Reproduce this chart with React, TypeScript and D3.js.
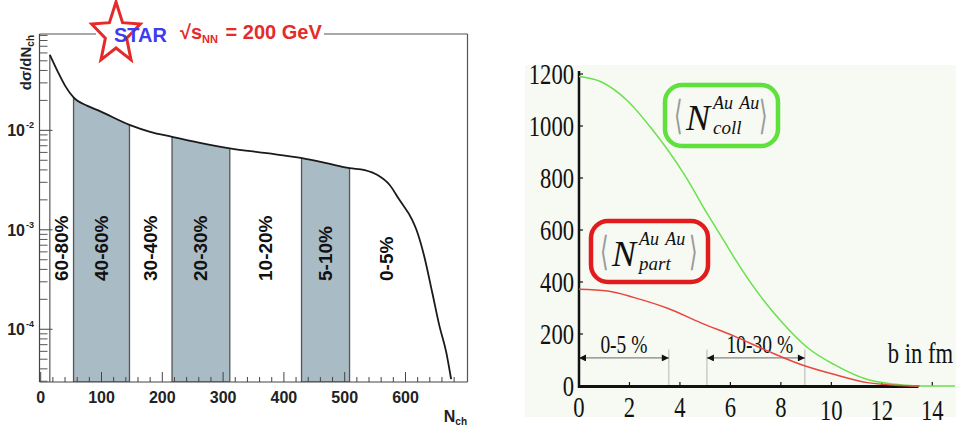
import React from "react";
import * as d3 from "d3";

// ---- left panel: STAR dsigma/dNch ----
const nch = [15, 28, 41, 54, 77, 98, 146, 180, 216, 262, 311, 372, 430, 470, 508, 533, 554, 574, 590, 611, 618, 631, 644, 656, 667, 675];
const dsigma = [0.0575, 0.039, 0.0275, 0.0214, 0.0176, 0.0155, 0.01135, 0.00966, 0.00861, 0.0075, 0.0066, 0.00589, 0.00525, 0.00468, 0.00417, 0.00398, 0.00355, 0.00282, 0.002, 0.00126, 0.001, 0.000537, 0.000234, 0.000107, 0.0000589, 0.0000316];

const bandLabels = ["60-80%", "40-60%", "30-40%", "20-30%", "10-20%", "5-10%", "0-5%"];
const bandLow = [15, 54, 146, 216, 311, 429, 508];
const bandHigh = [54, 146, 216, 311, 429, 508, 632];
const bandShaded = [false, true, false, true, false, true, false];

const leftXTicks = [0, 100, 200, 300, 400, 500, 600];
const leftYDecades = [-4, -3, -2];

// ---- right panel: Glauber <Ncoll>, <Npart> vs b ----
const bColl = [0, 0.87, 1.93, 2.85, 4.17, 5.1, 5.75, 6.15, 7.08, 8.0, 9.06, 10.1, 11.4, 12.4, 13.0, 13.6, 14.9];
const nColl = [1190, 1170, 1096, 993, 814, 660, 558, 494, 360, 250, 147, 83, 26, 8, 3, 0, 0];
const bPart = [0, 1.14, 2.19, 3.51, 4.83, 6.15, 7.47, 8.79, 10.1, 11.43, 12.75, 13.5];
const nPart = [372, 365, 340, 299, 243, 192, 135, 83, 45, 13, 2, 0];

const rightXTicks = [0, 2, 4, 6, 8, 10, 12, 14];
const rightYTicks = [0, 200, 400, 600, 800, 1000, 1200];

const rangeLabels = ["0-5 %", "10-30 %"];
const rangeLow = [0, 5.07];
const rangeHigh = [3.56, 8.95];

const SANS = "'Liberation Sans', Arial, sans-serif";
const SERIF = "'Liberation Serif', 'Times New Roman', serif";

function LeftPanel() {
  const x = d3.scaleLinear().domain([-2, 702]).range([39.5, 467.5]);
  const y = d3.scaleLog().domain([2.95e-5, 0.093]).range([382, 34]);
  const pts: [number, number][] = nch.map((n, i) => [x(n), y(dsigma[i])]);
  const line = d3.line().curve(d3.curveMonotoneX)(pts) || "";
  const area = d3.area<[number, number]>()
    .x((d) => d[0])
    .y0(y.range()[0])
    .y1((d) => d[1])
    .curve(d3.curveMonotoneX)(pts) || "";
  const bottom = y.range()[0];
  const top = y.range()[1];
  const left = x.range()[0];
  const right = x.range()[1];

  const minorX = d3.range(0, 701, 20).filter((v) => v % 100 !== 0);
  const minorY: number[] = [];
  [-5, -4, -3, -2].forEach((k) => {
    for (let m = 2; m <= 9; m++) {
      const v = m * Math.pow(10, k);
      if (v > y.domain()[0] && v < y.domain()[1]) minorY.push(v);
    }
  });

  return (
    <g>
      <defs>
        <clipPath id="under">
          <path d={area} />
        </clipPath>
      </defs>
      {bandLabels.map((lab, i) =>
        bandShaded[i] ? (
          <rect
            key={lab}
            x={x(bandLow[i])}
            y={top}
            width={x(bandHigh[i]) - x(bandLow[i])}
            height={bottom - top}
            fill="#a9bbc5"
            stroke="#555"
            strokeWidth={1.3}
            clipPath="url(#under)"
          />
        ) : null
      )}
      {/* frame */}
      <line x1={left} x2={left} y1={top} y2={bottom} stroke="#444" strokeWidth={1.2} />
      <line x1={left} x2={right} y1={bottom} y2={bottom} stroke="#444" strokeWidth={1.2} />
      <line x1={right} x2={right} y1={top} y2={bottom} stroke="#555" strokeWidth={1.2} />
      <line x1={left} x2={96} y1={top} y2={top} stroke="#555" strokeWidth={1.2} />
      <line x1={324} x2={right} y1={top} y2={top} stroke="#555" strokeWidth={1.2} />

      {/* x ticks */}
      {leftXTicks.map((t) => (
        <g key={t}>
          <line x1={x(t)} x2={x(t)} y1={bottom} y2={bottom - 10} stroke="#444" />
          <text x={x(t)} y={403} textAnchor="middle" fontFamily={SANS} fontWeight="bold" fontSize={16} fill="#222">
            {t}
          </text>
        </g>
      ))}
      {minorX.map((t) => (
        <line key={t} x1={x(t)} x2={x(t)} y1={bottom} y2={bottom - 5} stroke="#444" />
      ))}
      {/* y ticks */}
      {leftYDecades.map((k) => {
        const yy = y(Math.pow(10, k));
        return (
          <g key={k}>
            <line x1={left} x2={left + 13} y1={yy} y2={yy} stroke="#444" />
            <text x={25} y={yy + 6} textAnchor="end" fontFamily={SANS} fontWeight="bold" fontSize={16} fill="#222">
              10
            </text>
            <text x={26} y={yy - 2} fontFamily={SANS} fontWeight="bold" fontSize={9} fill="#222">
              {String(k)}
            </text>
          </g>
        );
      })}
      {minorY.map((v) => (
        <line key={v} x1={left} x2={left + 8} y1={y(v)} y2={y(v)} stroke="#555" />
      ))}

      {/* histogram curve */}
      <line x1={pts[0][0]} x2={pts[0][0]} y1={bottom} y2={pts[0][1]} stroke="#555" strokeWidth={1.2} />
      <path d={line} fill="none" stroke="#1a1a1a" strokeWidth={1.8} />

      {/* band labels */}
      {bandLabels.map((lab, i) => {
        const cx = x((bandLow[i] + bandHigh[i]) / 2) + 6;
        return (
          <text
            key={lab}
            transform={`translate(${cx},281) rotate(-90)`}
            fontFamily={SANS}
            fontWeight="bold"
            fontSize={19}
            fill="#111"
          >
            {lab}
          </text>
        );
      })}

      {/* axis titles */}
      <text transform="translate(31,35) rotate(-90)" textAnchor="end" fontFamily={SANS} fontWeight="bold" fontSize={15} fill="#222">
        dσ/dN<tspan fontSize={10} dy={3}>ch</tspan>
      </text>
      <text x={467} y={422} textAnchor="end" fontFamily={SANS} fontWeight="bold" fontSize={16} fill="#222">
        N<tspan fontSize={10} dy={3}>ch</tspan>
      </text>

      {/* STAR logo */}
      <StarLogo />
    </g>
  );
}

function StarLogo() {
  const cx = 116;
  const cy = 34;
  const pts = d3.range(10).map((i) => {
    const r = i % 2 === 0 ? 32 : 14;
    const a = (i * Math.PI) / 5;
    return [cx + 0.8 * r * Math.sin(a), cy - r * Math.cos(a)] as [number, number];
  });
  const star = d3.line().curve(d3.curveLinearClosed)(pts) || "";
  return (
    <g>
      <path d={star} fill="#fff" stroke="#e52a2a" strokeWidth={3} strokeLinejoin="miter" />
      <text x={114} y={42} fontFamily={SANS} fontWeight="bold" fontSize={20} fill="#3c3cf0">
        STAR
      </text>
      <text x={180} y={39} fontFamily={SANS} fontWeight="bold" fontSize={20} fill="#e52a2a">
        √s<tspan fontSize={11} dy={4}>NN</tspan>
        <tspan dy={-4} dx={2}> = 200 GeV</tspan>
      </text>
    </g>
  );
}

function MathBox({ bx, by, w, color, sub }: { bx: number; by: number; w: number; color: string; sub: string }) {
  return (
    <g>
      <rect x={bx} y={by} width={w} height={61} rx={17} fill="none" stroke={color} strokeWidth={4.5} />
      <text x={bx + 9} y={by + 44} fontFamily={SERIF} fontSize={40} fill="#999" transform={`translate(${bx + 9},0) scale(0.55,1) translate(${-(bx + 9)},0)`}>
        ⟨
      </text>
      <text x={bx + 21} y={by + 45} fontFamily={SERIF} fontStyle="italic" fontSize={36} fill="#111">
        N
      </text>
      <text x={bx + 48} y={by + 24} fontFamily={SERIF} fontStyle="italic" fontSize={18} fill="#111" wordSpacing={2}>
        Au Au
      </text>
      <text x={bx + 48} y={by + 49} fontFamily={SERIF} fontStyle="italic" fontSize={19} fill="#111">
        {sub}
      </text>
      <text x={bx + w - 19} y={by + 44} fontFamily={SERIF} fontSize={40} fill="#999" transform={`translate(${bx + w - 19},0) scale(0.55,1) translate(${-(bx + w - 19)},0)`}>
        ⟩
      </text>
    </g>
  );
}

function RightPanel() {
  const x = d3.scaleLinear().domain([0, 14.9]).range([579, 955]);
  const y = d3.scaleLinear().domain([0, 1200]).range([386, 74]);
  const lineGen = d3.line<number>().curve(d3.curveMonotoneX);
  const coll = lineGen.x((d, i) => x(bColl[i])).y((d) => y(d))(nColl) || "";
  const part = lineGen.x((d, i) => x(bPart[i])).y((d) => y(d))(nPart) || "";
  const arrowN = 108;
  const labelN = 127;
  const sq = (px: number, py: number) => `translate(${px},${py}) scale(0.78,1)`;

  return (
    <g>
      <defs>
        <marker id="ah" viewBox="0 0 10 10" refX={10} refY={5} markerWidth={9} markerHeight={7} orient="auto-start-reverse" markerUnits="userSpaceOnUse">
          <path d="M0,0 L10,5 L0,10 z" fill="#111" />
        </marker>
      </defs>
      <rect x={525} y={65} width={431} height={352} fill="#f6faf3" />

      {/* range guides */}
      {rangeLabels.map((lab, i) => (
        <g key={lab}>
          {[rangeLow[i], rangeHigh[i]].filter((b) => b > 0).map((b) => (
            <line key={b} x1={x(b)} x2={x(b)} y1={y(0)} y2={y(140)} stroke="#b5b5b5" strokeWidth={1} />
          ))}
          <line x1={x(rangeLow[i])} x2={x(rangeHigh[i])} y1={y(arrowN)} y2={y(arrowN)} stroke="#666" strokeWidth={1}
            markerStart="url(#ah)" markerEnd="url(#ah)" />
          <text transform={sq((x(rangeLow[i]) + x(rangeHigh[i])) / 2 + (i === 0 ? 0 : 4), y(labelN))} textAnchor="middle"
            fontFamily={SERIF} fontSize={25} fill="#111">
            {lab}
          </text>
        </g>
      ))}

      {/* axes */}
      <line x1={579} x2={579} y1={71} y2={388} stroke="#111" strokeWidth={2.5} />
      <line x1={578} x2={x(13.45)} y1={y(0) + 0.5} y2={y(0) + 0.5} stroke="#111" strokeWidth={3} />
      {rightYTicks.map((t) => (
        <g key={t}>
          <line x1={579} x2={583} y1={y(t)} y2={y(t)} stroke="#111" strokeWidth={1.2} />
          <text transform={sq(574, y(t) + 10)} textAnchor="end" fontFamily={SERIF} fontSize={29} fill="#111">
            {t}
          </text>
        </g>
      ))}
      {rightXTicks.map((t) => (
        <g key={t}>
          <line x1={x(t)} x2={x(t)} y1={y(0)} y2={y(0) - 4} stroke="#111" strokeWidth={1.2} />
          <text transform={sq(x(t), t >= 10 ? 420 : 417)} textAnchor="middle" fontFamily={SERIF} fontSize={29} fill="#111">
            {t}
          </text>
        </g>
      ))}

      {/* curves */}
      <path d={coll} fill="none" stroke="#6ae04c" strokeWidth={1.5} />
      <path d={part} fill="none" stroke="#e8463e" strokeWidth={1.5} />

      <text transform={sq(953, 363)} textAnchor="end" fontFamily={SERIF} fontSize={29} fill="#111">
        b in fm
      </text>

      <MathBox bx={665} by={85} w={113} color="#5fe03c" sub="coll" />
      <MathBox bx={591} by={221} w={117} color="#e21c1c" sub="part" />
    </g>
  );
}

export default function App() {
  return (
    <svg width={956} height={428} style={{ position: "absolute", left: 0, top: 0, background: "#fff" }}>
      <rect width={956} height={428} fill="#fff" />
      <LeftPanel />
      <RightPanel />
    </svg>
  );
}
